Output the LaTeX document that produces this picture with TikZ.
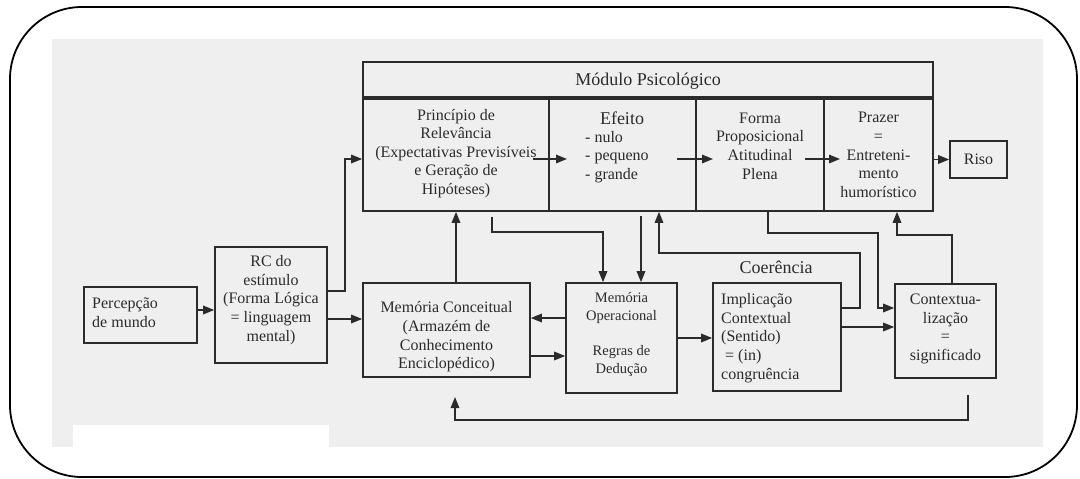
\documentclass[tikz,border=0pt]{standalone}
\usepackage{fontspec}
\setmainfont{Liberation Serif}
\usetikzlibrary{arrows.meta,calc}
\definecolor{ink}{HTML}{2B2B2B}
\definecolor{paper}{HTML}{EFEFEF}
\newcommand\dgnormal{\fontsize{16}{18.6}\selectfont}
\newcommand\dgbig{\fontsize{18}{20}\selectfont}
\newcommand\dgsmall{\fontsize{14.5}{18}\selectfont}
\begin{document}
\begin{tikzpicture}[x=1pt,y=-1pt,
  box/.style={draw=ink, line width=1.6pt, inner sep=0pt},
  txt/.style={text=ink, font=\dgnormal, align=center, inner sep=0pt},
  arr/.style={draw=ink, line width=1.6pt, -{Triangle[length=11pt,width=8.5pt]}},
  ln/.style={draw=ink, line width=1.6pt},
]
\useasboundingbox (0,0) rectangle (1080,479);

% outer frame and page background
\fill[paper] (52,39) rectangle (1043,447);
\fill[white] (73,425) rectangle (329,447);
\draw[line width=1.8pt, rounded corners=72pt] (10,7) rectangle (1077,477);

% psychological module
\node[box, minimum width=570pt, minimum height=149pt] (modulo) at (648,136.5) {};
\draw[ink, line width=3.2pt] (modulo.west |- 0,98) -- (modulo.east |- 0,98);
\node[txt, font=\dgbig] (modT) at (648,81) {Módulo Psicológico};

\node[box, minimum width=186pt, minimum height=113pt] (prin) at (456,154.5) {};
\node[box, minimum width=147pt, minimum height=113pt] (efe) at (622.5,154.5) {};
\node[box, minimum width=128pt, minimum height=113pt] (forma) at (760,154.5) {};
\node[box, minimum width=109pt, minimum height=113pt] (praz) at (878.5,154.5) {};

\node[txt] (prinT) at (456,153.5) {Princípio de\\Relevância\\(Expectativas Previsíveis\\e Geração de\\Hipóteses)};
\node[txt, font=\dgbig] (efeT) at (622,118) {Efeito};
\node[txt, align=left, anchor=west] (efeL) at (585,157) {- nulo\\- pequeno\\- grande};
\node[txt] (formaT) at (760,146) {Forma\\Proposicional\\Atitudinal\\Plena};
\node[txt] (prazT) at (878.5,155) {Prazer\\=\\Entreteni-\\mento\\humorístico};

\node[box, txt, minimum width=57pt, minimum height=37pt] (riso) at (978.5,159.5) {Riso};

% lower row
\node[box, minimum width=113pt, minimum height=56pt] (perc) at (140.5,315) {};
\node[txt, align=left, anchor=west] (percT) at (92,312.5) {Percepção\\de mundo};

\node[box, minimum width=112pt, minimum height=116pt] (rc) at (271,305) {};
\node[txt] (rcT) at (271,300) {RC do\\estímulo\\(Forma Lógica\\= linguagem\\mental)};

\node[box, minimum width=167pt, minimum height=94pt] (mc) at (446.5,330) {};
\node[txt] (mcT) at (446.5,337) {Memória Conceitual\\(Armazém de\\Conhecimento\\Enciclopédico)};

\node[box, minimum width=111pt, minimum height=110pt] (mo) at (621.5,338) {};
\node[txt, font=\dgsmall] (moT) at (621.5,334) {Memória\\Operacional\\[17pt]Regras de\\Dedução};

\node[box, minimum width=128pt, minimum height=108pt] (impl) at (777,337) {};
\node[txt, align=left, anchor=west] (implT) at (721,338) {Implicação\\Contextual\\(Sentido)\\\hspace{4pt}= (in)\\congruência};
\node[txt, font=\dgbig] (coer) at (776,267) {Coerência};

\node[box, minimum width=101pt, minimum height=94pt] (ctx) at (945.5,331) {};
\node[txt] (ctxT) at (945.5,329) {Contextua-\\lização\\=\\significado};

% arrows inside the module (they cross the cell borders)
\coordinate (pe1) at (533,159);
\coordinate (pe2) at (567,159);
\coordinate (ef1) at (677,159);
\coordinate (ef2) at (713,159);
\coordinate (fp1) at (805,159);
\coordinate (fp2) at (840,159);
\draw[arr] (pe1) -- (pe2);
\draw[arr] (ef1) -- (ef2);
\draw[arr] (fp1) -- (fp2);
\draw[arr] (modulo.east |- riso.west) -- (riso.west);

% connectors
\draw[arr] (perc.east |- 0,310) -- (rc.west |- 0,310);
\draw[arr] (rc.east |- 0,319) -- (mc.west |- 0,319);
\draw[arr] (rc.east |- 0,291) -- (345,291) -- (345,159) -- (prin.west |- 0,159);
\draw[arr] (prin.south |- mc.north) -- (prin.south);
\draw[arr] (492,217) -- (492,232) -- (603,232) -- (603,0 |- mo.north);
\draw[arr] (641,216) -- (641,0 |- mo.north);
\draw[arr] (impl.east |- 0,308) -- (860,308) -- (860,253) -- (659,253) -- (659,0 |- efe.south);
\draw[arr] (768,0 |- forma.south) -- (768,233) -- (878,233) -- (878,308) -- (ctx.west |- 0,308);
\draw[arr] (impl.east |- 0,327) -- (ctx.west |- 0,327);
\draw[arr] (952,0 |- ctx.north) -- (952,235) -- (897,235) -- (897,0 |- praz.south);
\coordinate (mcin) at (455,397);
\draw[arr] (968,395) -- (968,420) -- (455,420) -- (mcin);
\draw[arr] (mo.west |- 0,318) -- (mc.east |- 0,318);
\draw[arr] (mc.east |- 0,356) -- (mo.west |- 0,356);
\draw[arr] (mo.east |- 0,338) -- (impl.west |- 0,338);
\end{tikzpicture}
\end{document}
